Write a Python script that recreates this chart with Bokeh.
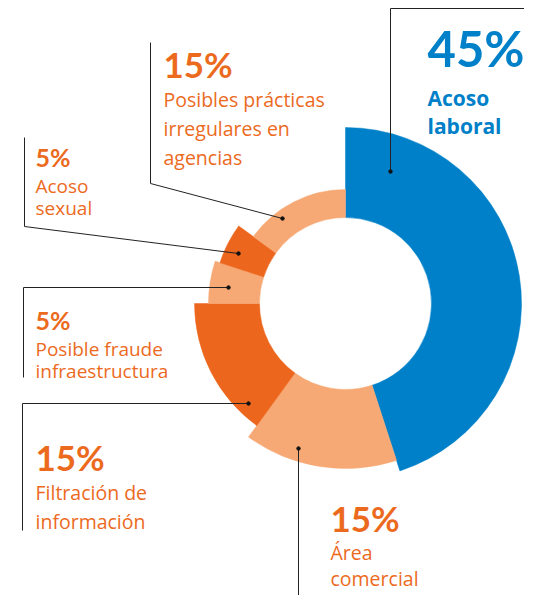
import math
from bokeh.plotting import figure
from bokeh.models import Range1d
from bokeh.core.properties import value
from bokeh.embed import file_html
from bokeh.resources import INLINE

# ---- data ----
categories = ["Acoso laboral", "Área comercial", "Filtración de información",
              "Posible fraude infraestructura", "Acoso sexual",
              "Posibles prácticas irregulares en agencias"]
values = [45, 15, 15, 5, 5, 15]
label_lines = [["Acoso", "laboral"], ["Área", "comercial"], ["Filtración de", "información"],
               ["Posible fraude", "infraestructura"], ["Acoso", "sexual"],
               ["Posibles prácticas", "irregulares en", "agencias"]]

# ---- styles / layout ----
colors = ["#0080C8", "#F6A974", "#EC671D", "#F6A974", "#EC671D", "#F6A974"]
text_colors = ["#0080C8", "#EC6A1E", "#EC6A1E", "#EC6A1E", "#EC6A1E", "#EC6A1E"]
outer_r = [176, 165, 151, 137, 132, 114]
inner_r = 86
cx, cy_page = 345, 303

W, H = 524, 595
def Y(yp):  # picture y -> data y
    return H - yp

p = figure(width=W, height=H, x_range=Range1d(0, W), y_range=Range1d(0, H),
           output_backend="svg", toolbar_location=None, min_border=0)
p.axis.visible = False
p.grid.visible = False
p.outline_line_color = None
p.background_fill_color = "white"

cy = Y(cy_page)
cum = 0
for v, c, r in zip(values, colors, outer_r):
    a0 = math.pi / 2 - cum / 100 * 2 * math.pi
    a1 = a0 - v / 100 * 2 * math.pi
    p.annular_wedge(x=cx, y=cy, inner_radius=inner_r, outer_radius=r,
                    start_angle=a1, end_angle=a0, color=c, line_color=c, line_width=0.5)
    cum += v

# leader lines (picture coords), in category order
leaders = [
    [(390, 171), (390, 8), (540, 8)],
    [(298, 448), (298, 611)],
    [(248, 403), (22, 403), (22, 530)],
    [(228, 287), (23, 287), (23, 377)],
    [(238, 253), (24, 226), (24, 137)],
    [(282, 218), (150, 183), (150, 42)],
]
for pts in leaders:
    p.line([q[0] for q in pts], [Y(q[1]) for q in pts], line_color="#222222", line_width=1)
    p.scatter([pts[0][0]], [Y(pts[0][1])], size=3.5, color="#111111")

# label layout: x, pct baseline, pct size, first-line baseline, line gap, text size, bold label
label_pos = [
    (427, 66, 49, 105, 28, 21, True),
    (330, 530, 35, 559, 26, 19.5, False),
    (35, 469, 35, 499, 29, 19.5, False),
    (35, 329, 25, 356, 22, 19, False),
    (35, 166, 25, 193, 22, 19, False),
    (163, 76, 35, 106, 29, 19.5, False),
]
PCT_FONT = value("Lato")
LBL_FONT = value("Open Sans")
K = 0.37  # baseline correction factor
for v, lines, col, (x, pb, ps, lb, gap, ts, bold) in zip(values, label_lines, text_colors, label_pos):
    p.text(x=[x], y=[Y(pb - K * ps)], text=[f"{v}%"], text_font_size=f"{ps}px", text_font_style="bold",
           text_color=col, text_baseline="alphabetic", text_align="left", text_font=PCT_FONT)
    for i, ln in enumerate(lines):
        p.text(x=[x], y=[Y(lb + i * gap - K * ts)], text=[ln], text_font_size=f"{ts}px",
               text_font_style="bold" if bold else "normal", text_color=col,
               text_baseline="alphabetic", text_align="left", text_font=LBL_FONT)

open("out.html", "w").write(file_html(p, INLINE))
